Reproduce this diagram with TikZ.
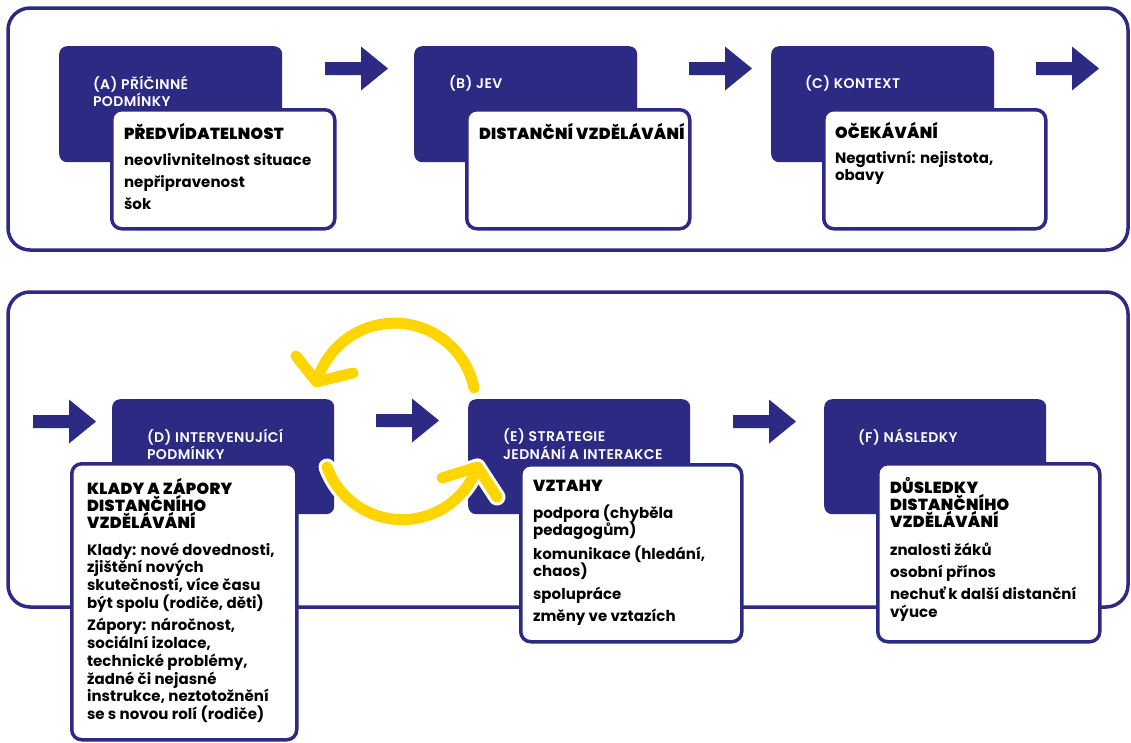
\documentclass[tikz,border=0pt]{standalone}
\usepackage{fontspec}
\setmainfont{Poppins}
\newfontfamily\labfont{Poppins SemiBold}[LetterSpace=3]
\newfontfamily\headfont{Poppins Black}[LetterSpace=2]
\newfontfamily\bodyfont{Poppins Bold}[LetterSpace=0.5]
\definecolor{navy}{HTML}{2D2A84}
\definecolor{sun}{HTML}{FFD500}
\newcommand\labtext[1]{\begin{minipage}[t]{220pt}\raggedright\labfont\fontsize{14}{16}\selectfont\color{white}#1\end{minipage}}
\newcommand\headtext[1]{\begin{minipage}[t]{220pt}\raggedright\headfont\fontsize{16}{17.3}\selectfont#1\end{minipage}}
\newcommand\bodytext[1]{\begin{minipage}[t]{220pt}\raggedright\bodyfont\fontsize{15}{17.8}\selectfont\setlength\parskip{4.5pt}#1\end{minipage}}
\tikzset{
  frame/.style={draw=navy, line width=3.5pt, rounded corners=22pt},
  darkbox/.style={fill=navy, draw=none, rounded corners=8pt, rectangle, inner sep=0pt, anchor=north west},
  whitebox/.style={fill=white, draw=navy, line width=3.5pt, rounded corners=10pt, rectangle, inner sep=0pt, anchor=north west},
  txt/.style={anchor=base west, inner sep=0pt, outer sep=0pt},
  barrow/.pic={\fill[navy] (0,-6.5) -- (36,-6.5) -- (36,-22) -- (63,0) -- (36,22) -- (36,6.5) -- (0,6.5) -- cycle;},
  yunder/.style={draw=white, line width=17pt, line cap=round, line join=round},
  yline/.style={draw=sun, line width=11pt, line cap=round, line join=round},
}
\begin{document}
\begin{tikzpicture}[x=1pt, y=-1pt]
\useasboundingbox (0,0) rectangle (1131,742);
\fill[white] (0,0) rectangle (1131,742);
% frames
\draw[frame] (8,8) rectangle (1128,250);
\draw[frame] (8,292) rectangle (1128,607);
% dark boxes
\node[darkbox, minimum width=223pt, minimum height=116pt] (Ad) at (59,46) {};
\node[darkbox, minimum width=223pt, minimum height=116pt] (Bd) at (414,46) {};
\node[darkbox, minimum width=223pt, minimum height=116pt] (Cd) at (771,46) {};
\node[darkbox, minimum width=222pt, minimum height=115pt] (Dd) at (112,399) {};
\node[darkbox, minimum width=222pt, minimum height=115pt] (Ed) at (468,399) {};
\node[darkbox, minimum width=222pt, minimum height=115pt] (Fd) at (824,399) {};
% white boxes
\node[whitebox, minimum width=223pt, minimum height=119pt] (Aw) at (110,108) {};
\node[whitebox, minimum width=223pt, minimum height=119pt] (Bw) at (465,108) {};
\node[whitebox, minimum width=222pt, minimum height=119pt] (Cw) at (822,108) {};
\node[whitebox, minimum width=225pt, minimum height=276pt] (Dw) at (70,462) {};
\node[whitebox, minimum width=221pt, minimum height=177pt] (Ew) at (519,463) {};
\node[whitebox, minimum width=222pt, minimum height=178pt] (Fw) at (876,462) {};
% yellow cycle
\draw[yunder] (474,388) arc[start angle=-11.5, end angle=-164, radius=81] coordinate (ytip1);
\draw[yunder] (296,356) -- (ytip1) -- (353,373);
\draw[yunder] (327,467) arc[start angle=160, end angle=20, radius=80] coordinate (ytip2);
\draw[yunder] (442,478) -- (ytip2) -- (497,497);
\draw[yline] (474,388) arc[start angle=-11.5, end angle=-164, radius=81];
\draw[yline] (296,356) -- (ytip1) -- (353,373);
\draw[yline] (327,467) arc[start angle=160, end angle=20, radius=80];
\draw[yline] (442,478) -- (ytip2) -- (497,497);
% block arrows
\pic at (325,68.5) {barrow};
\pic at (689,68.5) {barrow};
\pic at (1036,68.5) {barrow};
\pic at (33,421.5) {barrow};
\pic at (376,420.5) {barrow};
\pic at (733,421.5) {barrow};
% labels
\node[txt] (Al) at (93,76) {\labtext{(A) PŘÍČINNÉ\\PODMÍNKY}};
\node[txt] (Bl) at (449,76) {\labtext{(B) JEV}};
\node[txt] (Cl) at (805,76) {\labtext{(C) KONTEXT}};
\node[txt] (Dl) at (147,429) {\labtext{(D) INTERVENUJÍCÍ\\PODMÍNKY}};
\node[txt] (El) at (503,429) {\labtext{(E) STRATEGIE\\JEDNÁNÍ A INTERAKCE}};
\node[txt] (Fl) at (858,429) {\labtext{(F) NÁSLEDKY}};
% headings
\node[txt] (Ah) at (124,139) {\headtext{PŘEDVÍDATELNOST}};
\node[txt] (Bh) at (479,139) {\headtext{DISTANČNÍ VZDĚLÁVÁNÍ}};
\node[txt] (Ch) at (835,138) {\headtext{OČEKÁVÁNÍ}};
\node[txt] (Dh) at (87,494) {\headtext{KLADY A ZÁPORY\\DISTANČNÍHO\\VZDĚLÁVÁNÍ}};
\node[txt] (Eh) at (533,491) {\headtext{VZTAHY}};
\node[txt] (Fh) at (890,493) {\headtext{DŮSLEDKY\\DISTANČNÍHO\\VZDĚLÁVÁNÍ}};
% bodies
\node[txt] (Ab) at (124,165) {\bodytext{neovlivnitelnost situace\par nepřipravenost\par šok}};
\node[txt] (Cb) at (835,163) {\bodytext{Negativní: nejistota,\\obavy}};
\node[txt] (Db) at (87,555) {\bodytext{Klady: nové dovednosti,\\zjištění nových\\skutečností, více času\\být spolu (rodiče, děti)\par Zápory: náročnost,\\sociální izolace,\\technické problémy,\\žadné či nejasné\\instrukce, neztotožnění\\se s novou rolí (rodiče)}};
\node[txt] (Eb) at (533,518) {\bodytext{podpora (chyběla\\pedagogům)\par komunikace (hledání,\\chaos)\par spolupráce\par změny ve vztazích}};
\node[txt] (Fb) at (890,555) {\bodytext{znalosti žáků\par osobní přínos\par nechuť k další distanční\\výuce}};
\end{tikzpicture}
\end{document}
